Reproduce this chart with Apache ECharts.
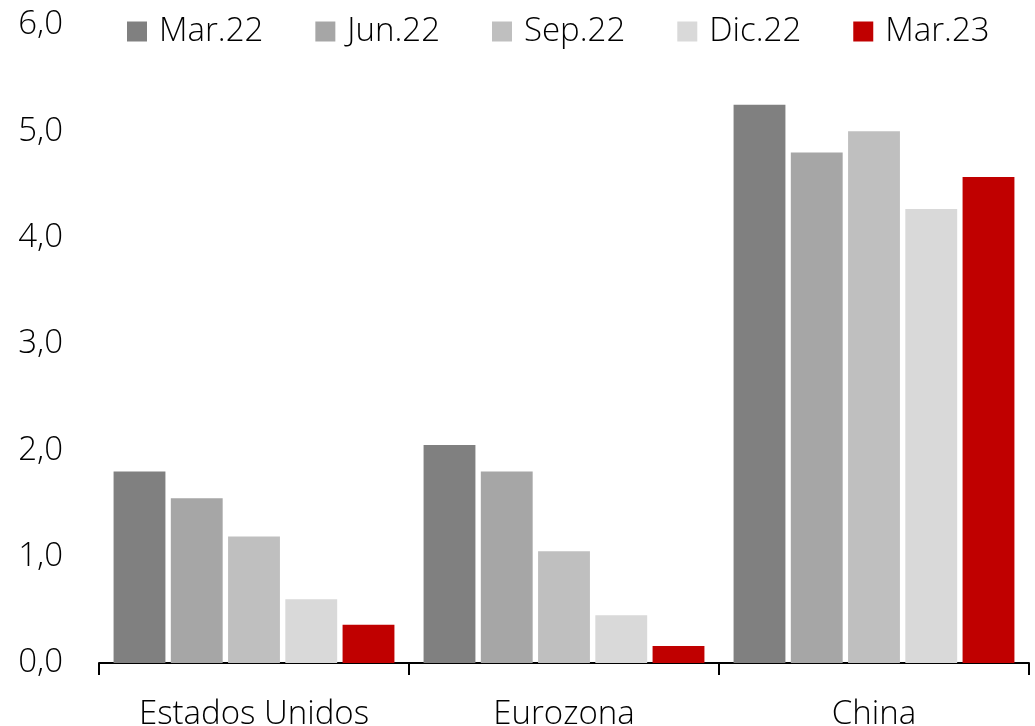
<!DOCTYPE html>
<html>
<head>
<meta charset="utf-8">
<script src="https://cdn.jsdelivr.net/npm/echarts@6/dist/echarts.min.js"></script>
<style>
  html, body { margin: 0; padding: 0; background: #fff; }
  #chart { width: 1035px; height: 726px; }
</style>
</head>
<body>
<div id="chart"></div>
<script>
// categorías y series
const regions = ['Estados Unidos', 'Eurozona', 'China'];
const seriesNames = ['Mar.22', 'Jun.22', 'Sep.22', 'Dic.22', 'Mar.23'];
const mar22 = [1.80, 2.05, 5.25];
const jun22 = [1.55, 1.80, 4.80];
const sep22 = [1.19, 1.05, 5.00];
const dic22 = [0.60, 0.45, 4.27];
const mar23 = [0.36, 0.16, 4.57];
const colors = ['#808080', '#A6A6A6', '#BFBFBF', '#D9D9D9', '#C00000'];

const values = [mar22, jun22, sep22, dic22, mar23];
const font = '"Open Sans", sans-serif';

const chart = echarts.init(document.getElementById('chart'));
chart.setOption({
    animation: false,
    textStyle: { fontFamily: font },
    legend: {
        left: 127,
        top: 15,
        padding: 0,
        itemWidth: 20,
        itemHeight: 20,
        itemGap: 52,
        icon: 'rect',
        data: seriesNames,
        textStyle: {
            fontSize: 33,
            fontWeight: 300,
            color: '#000',
            padding: [0, 0, 0, 7]
        }
    },
    grid: {
        left: 99,
        right: 6,
        top: 25,
        bottom: 63,
        outerBoundsMode: 'none'
    },
    xAxis: {
        type: 'category',
        data: regions,
        axisLine: { lineStyle: { color: '#000', width: 2 } },
        axisTick: { show: true, length: 12, lineStyle: { color: '#000', width: 2 } },
        axisLabel: {
            fontSize: 33,
            fontWeight: 300,
            color: '#000',
            margin: 35
        }
    },
    yAxis: {
        type: 'value',
        min: 0,
        max: 6,
        interval: 1,
        splitLine: { show: false },
        axisLine: { show: false },
        axisTick: { show: false },
        axisLabel: {
            fontSize: 33,
            fontWeight: 300,
            color: '#000',
            margin: 36,
            formatter: v => v.toFixed(1).replace('.', ',')
        }
    },
    series: seriesNames.map((name, i) => ({
        name: name,
        type: 'bar',
        data: values[i],
        barGap: '10.4%',
        barCategoryGap: '9.4%',
        itemStyle: { color: colors[i] }
    }))
});
</script>
</body>
</html>
